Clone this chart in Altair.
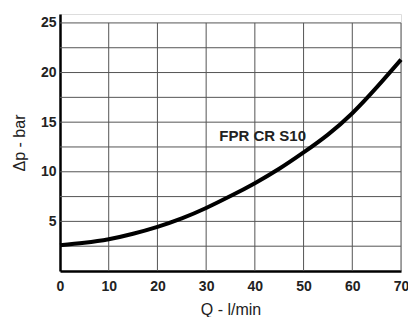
import altair as alt
import pandas as pd

# flow Q (l/min) and pressure drop (bar)
q_values = [0, 5, 10, 15, 20, 25, 30, 35, 40, 45, 50, 55, 60, 65, 70]
dp_values = [2.6, 2.85, 3.2, 3.75, 4.45, 5.3, 6.35, 7.55, 8.85, 10.3, 11.95, 13.75, 15.9, 18.5, 21.3]

x_ticks = [0, 10, 20, 30, 40, 50, 60, 70]
y_labels = [5, 10, 15, 20, 25]
x_grid = [10, 20, 30, 40, 50, 60, 70]
y_grid = [2.5, 5, 7.5, 10, 12.5, 15, 17.5, 20, 22.5, 25]

label_text = ["FPR CR S10"]
label_x = [41.6]
label_y = [13.6]

FONT = "Liberation Sans Narrow, Liberation Sans, Arial"
GRID = "#555555"

df = pd.DataFrame({"q": q_values, "dp": dp_values})
lab = pd.DataFrame({"t": label_text, "x": label_x, "y": label_y})
hg = pd.DataFrame({"y": y_grid})
vg = pd.DataFrame({"x": x_grid, "y0": [0] * len(x_grid), "y1": [25] * len(x_grid)})

xscale = alt.Scale(domain=[0, 70], nice=False, zero=False)
yscale = alt.Scale(domain=[0, 25.9], nice=False, zero=False)

hgrid = alt.Chart(hg).mark_rule(color=GRID, strokeWidth=1).encode(
    y=alt.Y("y:Q", scale=yscale)
)
vgrid = alt.Chart(vg).mark_rule(color=GRID, strokeWidth=1).encode(
    x=alt.X("x:Q", scale=xscale),
    y=alt.Y("y0:Q", scale=yscale),
    y2="y1:Q",
)

line = alt.Chart(df).mark_line(color="black", strokeWidth=4, interpolate="natural").encode(
    x=alt.X("q:Q", scale=xscale, axis=alt.Axis(
        values=x_ticks, title="Q - l/min", grid=False,
        domainColor="black", domainWidth=2.5, ticks=False, labelPadding=8,
        labelFont=FONT, labelFontSize=14, labelFontWeight="bold", labelColor="#222",
        titleFont=FONT, titleFontSize=16, titleFontWeight="normal", titleColor="#222", titlePadding=8,
        labelFlush=False)),
    y=alt.Y("dp:Q", scale=yscale, axis=alt.Axis(
        values=y_labels, title="\u0394p - bar", grid=False,
        domainColor="black", domainWidth=2.5, ticks=False, labelPadding=4,
        labelFont=FONT, labelFontSize=14, labelFontWeight="bold", labelColor="#222",
        titleFont=FONT, titleFontSize=16, titleFontWeight="normal", titleColor="#222", titlePadding=13)),
)

text = alt.Chart(lab).mark_text(font=FONT, fontSize=15, fontWeight="bold", color="#222").encode(
    x=alt.X("x:Q", scale=xscale),
    y=alt.Y("y:Q", scale=yscale),
    text="t:N",
)

chart = (hgrid + vgrid + line + text).properties(
    width=341, height=257,
    autosize=alt.AutoSizeParams(type="none"),
    padding={"left": 52, "top": 6, "right": 7, "bottom": 46},
).configure_view(stroke=None).configure(background="white")

chart.save("out.html", embed_options={"renderer": "svg", "actions": False})
